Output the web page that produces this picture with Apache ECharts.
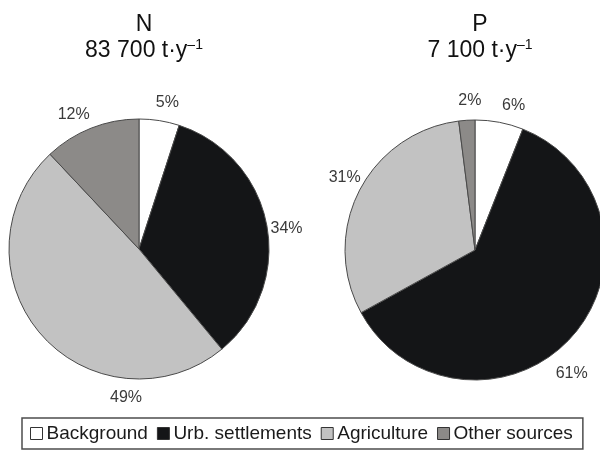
<!DOCTYPE html>
<html lang="en">
<head>
  <meta charset="UTF-8">
  <title>N and P sources</title>
  <script src="https://cdn.jsdelivr.net/npm/echarts@6/dist/echarts.min.js"></script>
</head>
<body style="margin:0;background:#fff;">
  <div id="main" style="width:600px;height:452px;"></div>
  <script>
    // source categories, shares (%) of each nutrient load
    var sources = ['Background', 'Urb. settlements', 'Agriculture', 'Other sources'];
    var nShares = [5, 34, 49, 12];
    var pShares = [6, 61, 31, 2];
    var nTotal = '83 700';
    var pTotal = '7 100';
    var sliceColors = ['#ffffff', '#141517', '#c2c2c2', '#8c8a88'];

    // where the % labels sit round each pie (degrees clockwise from top)
    var nLabelAngles = [11, 82, 185, 334];
    var pLabelAngles = [15, 142, 299, 358];

    var font = "'Liberation Sans', Arial, sans-serif";
    var pies = [
      { cx: 139, cy: 249, r: 130, shares: nShares, angles: nLabelAngles, title: 'N', total: nTotal },
      { cx: 475, cy: 250, r: 130, shares: pShares, angles: pLabelAngles, title: 'P', total: pTotal }
    ];

    function makeSeries(p) {
      return {
        type: 'pie',
        center: [p.cx, p.cy],
        radius: p.r,
        startAngle: 90,
        clockwise: true,
        avoidLabelOverlap: false,
        silent: true,
        itemStyle: { borderColor: '#4a4a4a', borderWidth: 1 },
        label: {
          show: true,
          position: 'outside',
          formatter: '{d}%',
          fontFamily: font,
          fontSize: 16,
          color: '#3a3a3a'
        },
        labelLine: { show: false },
        labelLayout: function (params) {
          var a = p.angles[params.dataIndex] * Math.PI / 180;
          // the big black P slice has its label a little further out
          var d = p.r + (p.shares[params.dataIndex] > 60 ? 27 : 19);
          return {
            x: p.cx + d * Math.sin(a),
            y: p.cy - d * Math.cos(a),
            align: 'center',
            verticalAlign: 'middle'
          };
        },
        data: sources.map(function (name, i) {
          return { name: name, value: p.shares[i], itemStyle: { color: sliceColors[i] } };
        })
      };
    }

    var chart = echarts.init(document.getElementById('main'));
    var option = {
      animation: false,
      backgroundColor: '#ffffff',
      graphic: pies.map(function (p) {
        return {
          type: 'text',
          x: p.cx + 5,
          y: 12,
          style: {
            text: '{t|' + p.title + '}\n{t|' + p.total + ' t·y}{s|–1}',
            align: 'center',
            verticalAlign: 'top',
            rich: {
              t: { fontFamily: font, fontSize: 23, lineHeight: 26, fill: '#111' },
              s: { fontFamily: font, fontSize: 14, lineHeight: 16, verticalAlign: 'top', fill: '#111' }
            }
          }
        };
      }),
      legend: {
        data: sources,
        left: 22,
        top: 418,
        orient: 'horizontal',
        icon: 'rect',
        itemWidth: 12,
        itemHeight: 12,
        itemGap: 9,
        padding: [6, 10, 6, 8],
        borderColor: '#4d4d4d',
        borderWidth: 1.5,
        selectedMode: false,
        itemStyle: { borderColor: '#333', borderWidth: 1 },
        textStyle: { fontFamily: font, fontSize: 19, color: '#1a1a1a', padding: [0, 0, 0, -1] }
      },
      series: pies.map(makeSeries)
    };
    chart.setOption(option);
  </script>
</body>
</html>
